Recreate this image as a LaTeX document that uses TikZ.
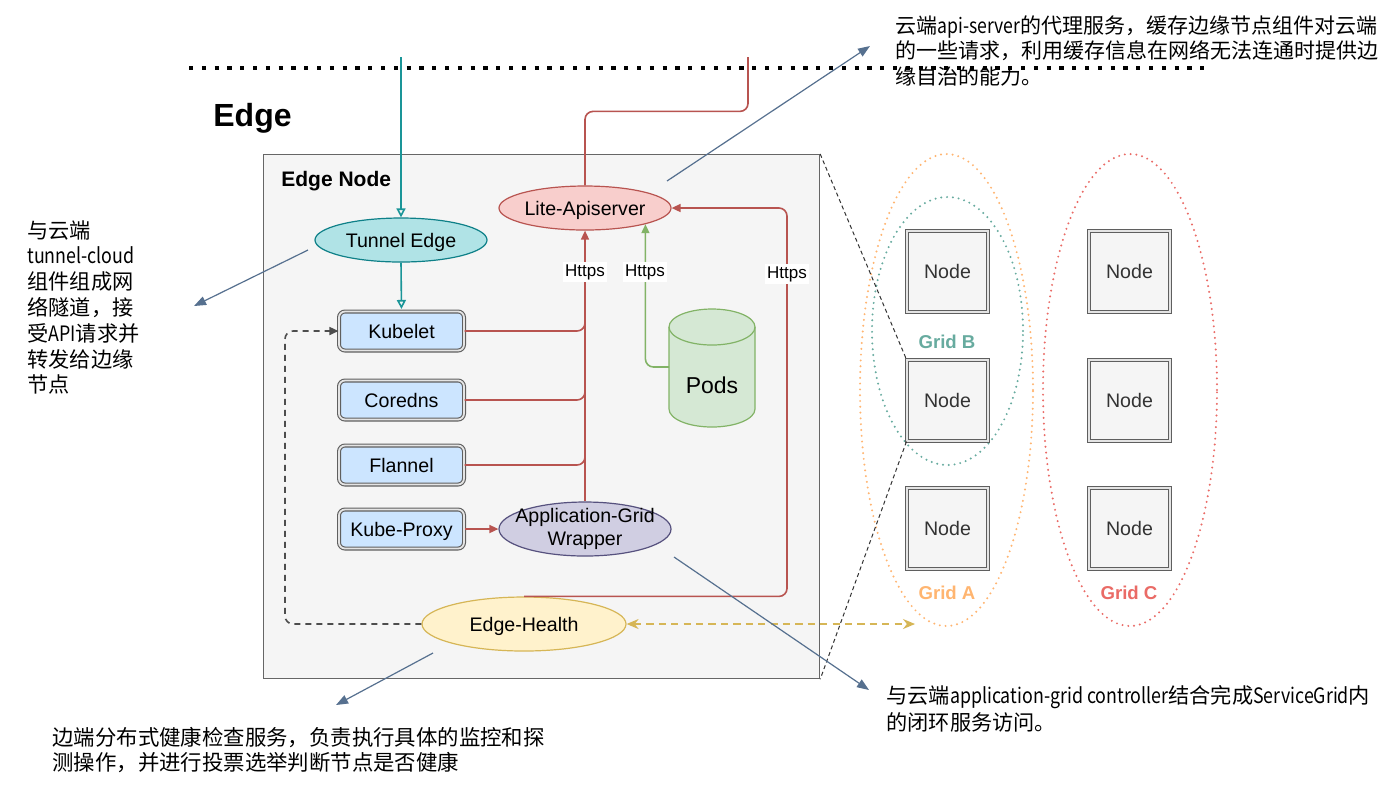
\documentclass[tikz,border=0pt]{standalone}
\usepackage{fontspec}
\setmainfont{Liberation Sans}
\newfontfamily\cjkfont{Noto Sans CJK SC}
\usetikzlibrary{arrows.meta,shapes.geometric,calc}
\newcommand\lw[1]{\scalebox{0.84}[1]{#1}}
\definecolor{boxfill}{HTML}{F5F5F5}
\definecolor{boxline}{HTML}{666666}
\definecolor{bluefill}{HTML}{CCE5FF}
\definecolor{dblline}{HTML}{5F5F5F}
\definecolor{dblgap}{HTML}{E4E4E4}
\definecolor{tealfill}{HTML}{B0E3E6}
\definecolor{tealline}{HTML}{0E8088}
\definecolor{tealarrow}{HTML}{1A9598}
\definecolor{redfill}{HTML}{F8CECC}
\definecolor{redline}{HTML}{B85450}
\definecolor{greenfill}{HTML}{D5E8D4}
\definecolor{greenline}{HTML}{82B366}
\definecolor{purfill}{HTML}{D0CEE2}
\definecolor{purline}{HTML}{56517E}
\definecolor{yelfill}{HTML}{FFF2CC}
\definecolor{yelline}{HTML}{D6B656}
\definecolor{gridA}{HTML}{FFB570}
\definecolor{gridB}{HTML}{67AB9F}
\definecolor{gridC}{HTML}{EA6B66}
\definecolor{annot}{HTML}{56708F}
\definecolor{dashgray}{HTML}{4D4D4D}
\begin{document}
\begin{tikzpicture}[x=0.5pt,y=-0.5pt,
  lbl/.style={font=\fontsize{9.8pt}{11.2pt}\selectfont, text=black},
  ctr/.style={text height=7pt, text depth=0pt},
  svc/.style={lbl, ctr, draw=dblline, double=dblgap, line width=0.55pt, double distance=0.9pt, fill=bluefill, rounded corners=3pt, minimum width=62.5pt, minimum height=19.5pt, inner sep=0pt},
  gnode/.style={lbl, ctr, text=black!80, draw=dblline, double=dblgap, line width=0.55pt, double distance=0.9pt, fill=boxfill, minimum width=40.5pt, minimum height=40.5pt, inner sep=0pt},
  ell/.style={ellipse, lbl, line width=0.6pt, inner sep=0pt},
  rl/.style={draw=redline, line width=0.8pt, rounded corners=4pt},
  tip/.style={-{Triangle[length=4.5pt,width=4pt]}},
  tealarr/.style={draw=tealarrow, line width=0.8pt, -{Triangle[open,length=4.5pt,width=4.5pt]}},
  https/.style={font=\fontsize{8.5pt}{10pt}\selectfont, fill=white, inner sep=1pt},
  gridring/.style={ellipse, draw=#1, line width=1.1pt, dash pattern=on 0pt off 2.9pt, line cap=round, inner sep=0pt},
  gridlbl/.style={font=\bfseries\fontsize{9.3pt}{11pt}\selectfont, text=#1},
  annotarrow/.style={draw=annot, line width=0.6pt, -{Triangle[length=6pt,width=4.5pt]}},
  note/.style={font=\cjkfont\fontsize{10.6pt}{12.9pt}\selectfont, align=left, anchor=north west, inner sep=0pt, text=black},
]
\useasboundingbox (0,0) rectangle (1400,784);
\fill[white] (0,0) rectangle (1400,784);

% Edge node container
\node[draw=boxline, fill=boxfill, line width=0.6pt, anchor=north west, minimum width=278pt, minimum height=262pt, inner sep=0pt] (edgenode) at (263,154) {};
\node[anchor=west, inner sep=0pt, font=\bfseries\fontsize{16pt}{19pt}\selectfont] (edgetitle) at (213,118) {Edge};
\node[anchor=west, inner sep=0pt, font=\bfseries\fontsize{10.5pt}{12pt}\selectfont] (edgenodetitle) at (281,181) {Edge Node};

% dotted boundary
\coordinate (dotl) at (189,68);
\coordinate (dotr) at (1206,68);
\draw[line width=2.1pt, dash pattern=on 2.1pt off 4.3pt] (dotl) -- (dotr);

% grids
\node[gridring=gridA, minimum width=86.5pt, minimum height=236pt] (gA) at (946.5,390) {};
\node[gridring=gridB, minimum width=75.5pt, minimum height=134pt] (gB) at (947.5,331) {};
\node[gridring=gridC, minimum width=87pt, minimum height=236pt] (gC) at (1130,390) {};
\node[gnode] (nA1) at (947.5,271.5) {Node};
\node[gnode] (nA2) at (947.5,400.5) {Node};
\node[gnode] (nA3) at (947.5,528.5) {Node};
\node[gnode] (nC1) at (1129.5,271.5) {Node};
\node[gnode] (nC2) at (1129.5,400.5) {Node};
\node[gnode] (nC3) at (1129.5,528.5) {Node};
\node[gridlbl=gridB] (lblB) at (947,342) {Grid B};
\node[gridlbl=gridA] (lblA) at (947,593) {Grid A};
\node[gridlbl=gridC] (lblC) at (1129,593) {Grid C};

% components
\node[ell, ctr, draw=tealline, fill=tealfill, minimum width=86pt, minimum height=22pt] (tunnel) at (401,240) {Tunnel Edge};
\node[ell, ctr, draw=redline, fill=redfill, minimum width=86pt, minimum height=22pt] (lite) at (585,208) {Lite-Apiserver};
\node[ell, draw=purline, fill=purfill, minimum width=86pt, minimum height=27pt, align=center, inner xsep=-7pt, inner ysep=-3pt] (agw) at (585,529) {Application-Grid\\Wrapper};
\node[ell, ctr, draw=yelline, fill=yelfill, minimum width=102pt, minimum height=27pt] (health) at (524,624) {Edge-Health};

\node[svc] (kubelet) at (401.5,331) {Kubelet};
\node[svc] (coredns) at (401.5,400) {Coredns};
\node[svc] (flannel) at (401.5,465) {Flannel};
\node[svc] (kubeproxy) at (401.5,529) {Kube-Proxy};

% Pods cylinder
\path[fill=greenfill, draw=greenline, line width=0.6pt] (669,327) -- (669,409) arc[start angle=180, end angle=360, x radius=21.5pt, y radius=9pt] -- (755,327) arc[start angle=0, end angle=180, x radius=21.5pt, y radius=9pt] -- cycle;
\draw[greenline, line width=0.6pt] (669,327) arc[start angle=180, end angle=360, x radius=21.5pt, y radius=9pt];
\node[font=\fontsize{11.5pt}{13pt}\selectfont, text height=8.2pt, text depth=0pt] (pods) at (712,385) {Pods};
\coordinate (podsw) at (669,367);

% teal connectors
\coordinate (tealtop) at (401,57);
\draw[tealarr] (tealtop) -- (tunnel.north);
\draw[tealarr, shorten >=1pt] (tunnel.south) -- (kubelet.north);

% red connectors
\coordinate (redtop) at (748,57);
\draw[rl] (lite.north) -- ++(0,-74) -| (redtop);
\draw[rl] (kubelet.east) -| ([yshift=10pt]kubelet.east -| agw.north);
\draw[rl] (coredns.east) -| ([yshift=10pt]coredns.east -| agw.north);
\draw[rl] (flannel.east) -| ([yshift=10pt]flannel.east -| agw.north);
\draw[rl, tip] (agw.north) -- (lite.south);
\draw[rl, tip] (kubeproxy.east) -- (agw.west);
\coordinate (rcorner) at (787,208);
\draw[rl, tip] (health.north) -| (rcorner) -- (lite.east);

% green connector
\draw[draw=greenline, line width=0.8pt, rounded corners=4pt, tip] (podsw) -| (lite.-15);

\node[https] (h1) at (585,272) {Https};
\node[https] (h2) at (645,272) {Https};
\node[https] (h3) at (787,274) {Https};

% dashed health links
\coordinate (dleft) at (285,331);
\draw[draw=dashgray, line width=0.8pt, dash pattern=on 3pt off 2.5pt, rounded corners=4pt, tip] (health.west) -| (dleft) -- (kubelet.west);
\coordinate (yend) at (915,624);
\draw[draw=yelline, line width=0.8pt, dash pattern=on 3.6pt off 2.6pt, {Stealth[length=6pt,width=5pt]}-{Stealth[length=6pt,width=5pt]}] (health.east) -- (yend);

% zoom lines
\draw[draw=black!80, line width=0.5pt, dash pattern=on 2pt off 1.5pt] (edgenode.north east) -- (nA2.north west);
\draw[draw=black!80, line width=0.5pt, dash pattern=on 2pt off 1.5pt] (nA2.south west) -- (edgenode.south east);

% annotation arrows
\coordinate (a1s) at (667,181); \coordinate (a1e) at (870,46);
\coordinate (a2s) at (308,250); \coordinate (a2e) at (194,306);
\coordinate (a3s) at (433,653); \coordinate (a3e) at (336,705);
\coordinate (a4s) at (674,557); \coordinate (a4e) at (869,690);
\draw[annotarrow] (a1s) -- (a1e);
\draw[annotarrow] (a2s) -- (a2e);
\draw[annotarrow] (a3s) -- (a3e);
\draw[annotarrow] (a4s) -- (a4e);

% notes
\node[note, font=\cjkfont\fontsize{10.5pt}{12.8pt}\selectfont] (t1) at (895,15) {云端\lw{api-server}的代理服务，缓存边缘节点组件对云端\\的一些请求，利用缓存信息在网络无法连通时提供边\\缘自治的能力。};
\node[note] (t2) at (27,220) {与云端\\\lw{tunnel-cloud}\\组件组成网\\络隧道，接\\受\lw{API}请求并\\转发给边缘\\节点};
\node[note, font=\cjkfont\fontsize{10.7pt}{12.6pt}\selectfont] (t3) at (52,727) {边端分布式健康检查服务，负责执行具体的监控和探\\测操作，并进行投票选举判断节点是否健康};
\node[note, font=\cjkfont\fontsize{10.6pt}{13.4pt}\selectfont] (t4) at (886,685) {与云端\lw{application-grid controller}结合完成\lw{ServiceGrid}内\\的闭环服务访问。};
\end{tikzpicture}
\end{document}
